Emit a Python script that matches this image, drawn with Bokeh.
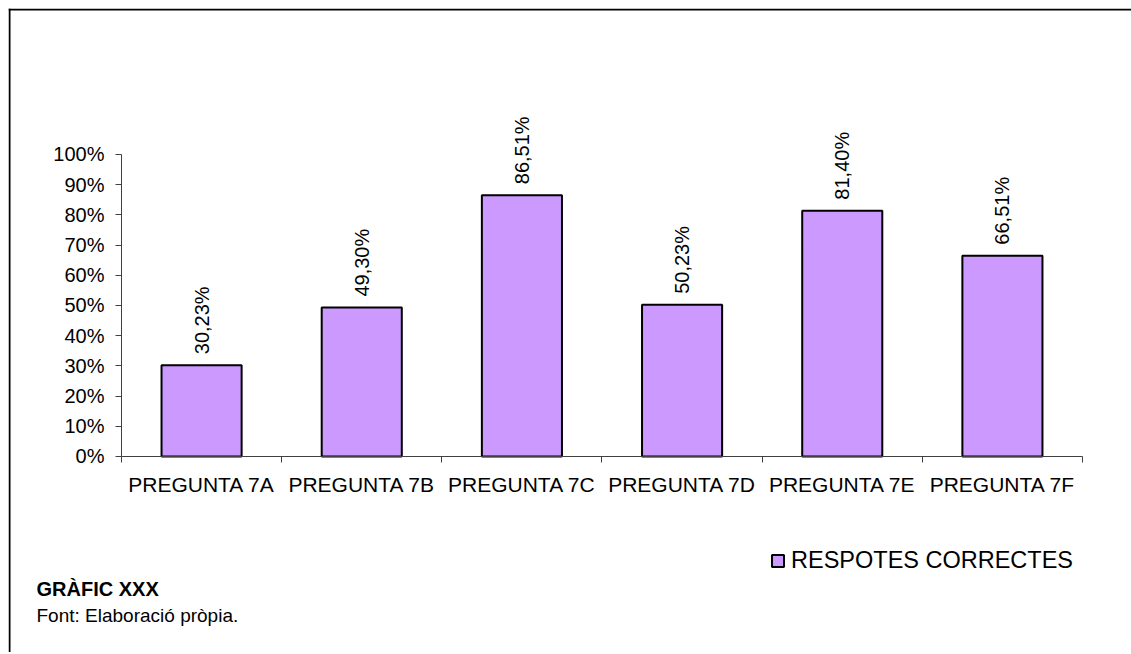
from bokeh.plotting import figure
from bokeh.layouts import column
from bokeh.models import (FixedTicker, PrintfTickFormatter, Legend, LegendItem,
                          Label, ColumnDataSource, Range1d, Span)
from bokeh.embed import file_html
from bokeh.resources import INLINE

categories = ["PREGUNTA 7A", "PREGUNTA 7B", "PREGUNTA 7C",
              "PREGUNTA 7D", "PREGUNTA 7E", "PREGUNTA 7F"]
values = [30.23, 49.30, 86.51, 50.23, 81.40, 66.51]
series_name = "RESPOTES CORRECTES"
y_ticks = [0, 10, 20, 30, 40, 50, 60, 70, 80, 90, 100]
title_text = "GRÀFIC XXX"
source_text = "Font: Elaboració pròpia."

FONT = "Liberation Sans"
xs = [i + 0.5 for i in range(len(categories))]
labels = [f"{v:.2f}%".replace(".", ",") for v in values]
src = ColumnDataSource(dict(x=xs, top=values, lab=labels))

W, H = 1123, 644
p = figure(width=W, height=H, output_backend="svg", toolbar_location=None,
           x_range=Range1d(-0.70551, 6.30593), y_range=Range1d(-64.901, 148.344),
           min_border=0)
p.outline_line_color = None
p.xgrid.grid_line_color = None
p.ygrid.grid_line_color = None
p.background_fill_color = "white"
p.border_fill_color = "white"

# outer chart-area frame (top and left edges visible in the window)
p.add_layout(Span(location=148.013, dimension="width", line_color="black", line_width=2))
p.add_layout(Span(location=-0.69927, dimension="height", line_color="black", line_width=2))

bars = p.vbar(x="x", top="top", width=0.5, source=src, fill_color="#CC99FF",
              line_color="black", line_width=2)

p.text(x="x", y="top", text="lab", source=src, angle=1.5708, y_offset=-11,
       text_align="left", text_baseline="middle", text_font_size="20px",
       text_font={"value": FONT}, text_color="black")

# y axis
p.yaxis.fixed_location = 0
p.yaxis.ticker = FixedTicker(ticks=y_ticks)
p.yaxis.formatter = PrintfTickFormatter(format="%d%%")
p.yaxis.bounds = (0, 100)
p.yaxis.major_tick_out = 6
p.yaxis.major_tick_in = 0
p.yaxis.minor_tick_line_color = None
p.yaxis.major_label_standoff = 11
p.yaxis.major_label_text_font = FONT
p.yaxis.major_label_text_font_size = "20px"
p.yaxis.major_label_text_color = "black"
p.yaxis.axis_line_color = "#404040"
p.yaxis.major_tick_line_color = "#404040"

# x axis
p.xaxis.fixed_location = 0
p.xaxis.bounds = (0, len(categories))
p.xaxis.ticker = FixedTicker(ticks=xs, minor_ticks=list(range(len(categories) + 1)))
p.xaxis.major_label_overrides = {x: c for x, c in zip(xs, categories)}
p.xaxis.major_tick_line_color = None
p.xaxis.major_tick_out = 6
p.xaxis.major_tick_in = 0
p.xaxis.minor_tick_out = 6
p.xaxis.minor_tick_in = 0
p.xaxis.minor_tick_line_color = "#404040"
p.xaxis.axis_line_color = "#404040"
p.xaxis.major_label_standoff = 11
p.xaxis.major_label_text_font = FONT
p.xaxis.major_label_text_font_size = "21px"
p.xaxis.major_label_text_color = "black"

legend = Legend(items=[LegendItem(label=series_name, renderers=[bars])],
                location=(762, 78), orientation="horizontal",
                glyph_width=15, glyph_height=15, label_standoff=6,
                label_text_font=FONT, label_text_font_size="23.5px",
                label_text_color="black", padding=0, margin=0, spacing=0,
                border_line_color=None, background_fill_alpha=0)
p.add_layout(legend, "center")

p.add_layout(Label(x=-0.5307, y=-44.0, text=title_text,
                   text_font=FONT, text_font_size="20px", text_font_style="bold",
                   text_color="black", text_baseline="alphabetic"))
p.add_layout(Label(x=-0.5307, y=-52.8, text=source_text,
                   text_font=FONT, text_font_size="19px",
                   text_color="black", text_baseline="alphabetic"))

root = column(p, width=1123, height=646,
              styles={"margin-top": "8px", "margin-left": "8px", "overflow": "hidden"})

open("out.html", "w").write(file_html(root, INLINE))
